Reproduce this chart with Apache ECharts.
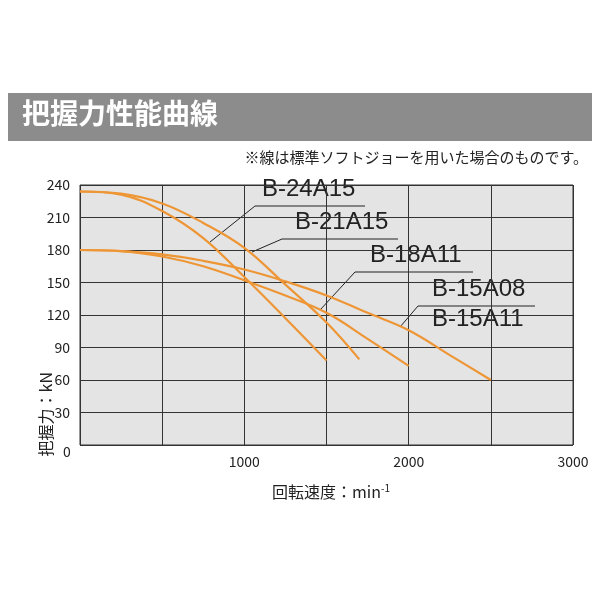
<!DOCTYPE html><html><head><meta charset="utf-8"><script src="https://cdn.jsdelivr.net/npm/echarts@6/dist/echarts.min.js"></script></head><body style="margin:0"><div id="c" style="width:600px;height:600px"></div><script>
const b24=[[0,234],[250,231],[500,216],[750,191],[1000,155],[1250,117],[1500,78]];
const b21=[[0,234],[250,232],[500,223],[750,205],[1000,182],[1250,148],[1500,113],[1700,79]];
const b18=[[0,180],[250,179],[500,174],[750,165],[1000,152],[1250,138],[1500,122],[1750,98],[2000,73]];
const b15=[[0,180],[250,179],[500,176],[750,170],[1000,162],[1250,151],[1500,138],[1750,122],[2000,106],[2250,83],[2500,60]];
const yTicks=[0,30,60,90,120,150,180,210,240];
const F='"Noto Sans CJK JP",sans-serif';
const L='"Liberation Sans",Arial,sans-serif';
const ln=d=>({type:'line',data:d,smooth:0.4,symbol:'none',lineStyle:{color:'#ee9635',width:2.2}});
const lab=(t,x,y,ux,lx,ly)=>[
 {type:'text',left:x,top:y-19,style:{text:t,font:'24px '+L,fill:'#222'}},
 {type:'line',shape:{x1:ux,y1:y+10,x2:x+103,y2:y+10},style:{stroke:'#222',lineWidth:1}},
 {type:'line',shape:{x1:ux,y1:y+10,x2:lx,y2:ly},style:{stroke:'#222',lineWidth:1}}];
const c=echarts.init(document.getElementById('c'));
c.setOption({
 grid:{left:80,right:27,top:185,bottom:155,backgroundColor:'#e4e4e4',show:true,borderColor:'#333',borderWidth:1},
 xAxis:{type:'value',min:0,max:3000,interval:500,axisLine:{show:false},axisTick:{show:false},
  splitLine:{lineStyle:{color:'#333'}},axisLabel:{color:'#222',fontSize:14,fontFamily:F,margin:10,formatter:v=>v%1000===0&&v?v:''}},
 yAxis:{type:'value',min:0,max:240,interval:30,axisLine:{show:false},axisTick:{show:false},
  splitLine:{lineStyle:{color:'#333'}},axisLabel:{color:'#222',fontSize:14,fontFamily:F,margin:10,formatter:v=>yTicks.includes(v)&&v?v:''}},
 series:[ln(b24),ln(b21),ln(b18),ln(b15)],
 graphic:[
  {type:'rect',shape:{x:8,y:93,width:584,height:48},style:{fill:'#8c8c8c'}},
  {type:'text',left:22,top:99,style:{text:'把握力性能曲線',font:'bold 28px '+F,fill:'#fff'}},
  {type:'text',right:12,top:150,style:{text:'※線は標準ソフトジョーを用いた場合のものです。',font:'15px '+F,fill:'#222'}},
  {type:'text',left:63,top:445,style:{text:'0',font:'14px '+F,fill:'#222'}},
  {type:'text',left:38,top:372,rotation:Math.PI/2,style:{text:'把握力：kN',font:'16px '+F,fill:'#222'}},
  {type:'text',left:272,top:483,style:{rich:{a:{font:'16px '+F,fill:'#222'},s:{font:'10px '+F,fill:'#222',verticalAlign:'top',padding:[0,0,8,0]}},text:'{a|回転速度：min}{s|-1}'}},
  ...lab('B-24A15',262,196,255,210,242),
  ...lab('B-21A15',295,229,282,252,252),
  ...lab('B-18A11',370,262,355,320,310),
  ...lab('B-15A08',432,296,418,400,327),
  {type:'text',left:432,top:307,style:{text:'B-15A11',font:'24px '+L,fill:'#222'}}
 ]});
</script></body></html>
